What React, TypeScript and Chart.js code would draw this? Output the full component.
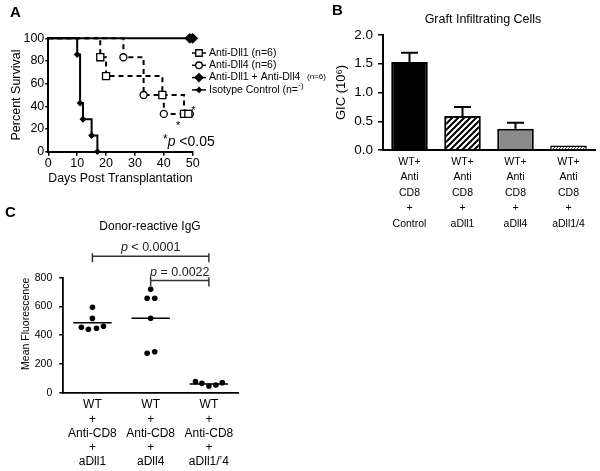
import React, { useEffect, useRef } from 'react';
import { Chart, registerables } from 'chart.js';

Chart.register(...registerables);

const FONT = "'Liberation Sans', Arial, Helvetica, sans-serif";
Chart.defaults.font.family = FONT;
Chart.defaults.color = '#000';

// ---------- Panel A: survival ----------
const dll1Days = [0, 18, 20, 39.5, 47, 48.5];
const dll1Surv = [100, 83.3, 66.7, 50, 33.3, 33.3];
const dll4Days = [0, 26, 33, 40, 47.5, 49];
const dll4Surv = [100, 83.3, 50, 33.3, 33.3, 33.3];
const comboDays = [0, 49, 50];
const comboSurv = [100, 100, 100];
const isoDays = [0, 10, 11, 12, 15, 17];
const isoSurv = [100, 85.7, 42.9, 28.6, 14.3, 0];
const aLegend = ['Anti-Dll1 (n=6)', 'Anti-Dll4 (n=6)', 'Anti-Dll1 + Anti-Dll4 (n=6)', 'Isotype Control (n=7)'];
const starDays = [45, 50.2];
const starSurv = [25, 39];

// ---------- Panel B: graft infiltrating cells ----------
const bLabels = [
  ['WT+', 'Anti', 'CD8', '+', 'Control'],
  ['WT+', 'Anti', 'CD8', '+', 'aDll1'],
  ['WT+', 'Anti', 'CD8', '+', 'aDll4'],
  ['WT+', 'Anti', 'CD8', '+', 'aDll1/4'],
];
const bValues = [1.53, 0.59, 0.37, 0.08];
const bErrors = [0.16, 0.16, 0.105, 0];

// ---------- Panel C: donor-reactive IgG ----------
const cLabels = [
  ['WT', '+', 'Anti-CD8', '+', 'aDll1'],
  ['WT', '+', 'Anti-CD8', '+', 'aDll4'],
  ['WT', '+', 'Anti-CD8', '+', 'aDll1/\u20194'],
];
const cValues = [
  [594, 517, 455, 441, 448, 462],
  [719, 657, 657, 518, 274, 285],
  [77, 65, 47, 54, 70],
];
const cJitter = [
  [0, 0, -0.19, -0.07, 0.07, 0.19],
  [0, -0.06, 0.07, 0, -0.06, 0.07],
  [-0.23, -0.12, 0, 0.12, 0.23],
];
const cMedians = [487, 518, 60];
const bracketFrom = [1, 2];
const bracketTo = [3, 3];
const bracketLevel = [950, 780];
const bracketText = ['< 0.0001', '= 0.0022'];

function drawMarker(ctx: CanvasRenderingContext2D, style: string, x: number, y: number, r: number, fill: string) {
  ctx.save();
  ctx.beginPath();
  if (style === 'rect') {
    const s = r * Math.SQRT1_2;
    ctx.rect(x - s, y - s, 2 * s, 2 * s);
  } else if (style === 'circle') {
    ctx.arc(x, y, r, 0, Math.PI * 2);
  } else {
    ctx.moveTo(x, y - r);
    ctx.lineTo(x + r, y);
    ctx.lineTo(x, y + r);
    ctx.lineTo(x - r, y);
    ctx.closePath();
  }
  ctx.fillStyle = fill;
  ctx.fill();
  ctx.lineWidth = 1.3;
  ctx.strokeStyle = '#000';
  ctx.stroke();
  ctx.restore();
}

function makeHatch(size: number, lw: number, color: string, bg: string) {
  const c = document.createElement('canvas');
  c.width = size;
  c.height = size;
  const g = c.getContext('2d')!;
  g.fillStyle = bg;
  g.fillRect(0, 0, size, size);
  g.strokeStyle = color;
  g.lineWidth = lw;
  g.beginPath();
  g.moveTo(-1, size + 1);
  g.lineTo(size + 1, -1);
  g.moveTo(-size / 2 - 1, size / 2 + 1);
  g.lineTo(size / 2 + 1, -size / 2 - 1);
  g.moveTo(size / 2 - 1, size * 1.5 + 1);
  g.lineTo(size * 1.5 + 1, size / 2 - 1);
  g.stroke();
  return g.createPattern(c, 'repeat')!;
}

const pts = (xs: number[], ys: number[]) => xs.map((x, i) => ({ x, y: ys[i] }));

function configA(): any {
  const legendStyles = [
    { style: 'rect', r: 4.6, fill: '#fff' },
    { style: 'circle', r: 3.3, fill: '#fff' },
    { style: 'diamond', r: 4, fill: '#000' },
    { style: 'diamond', r: 2.4, fill: '#000' },
  ];
  const plugin = {
    id: 'panelA',
    afterDraw(chart: any) {
      const ctx = chart.ctx as CanvasRenderingContext2D;
      const xs = chart.scales.x;
      const ys = chart.scales.y;
      ctx.save();
      ctx.fillStyle = '#000';
      ctx.textBaseline = 'middle';
      ctx.textAlign = 'left';
      ctx.font = `bold 15px ${FONT}`;
      ctx.fillText('A', 10, 13);
      // legend
      aLegend.forEach((label, i) => {
        const y = 53 + i * 12.3;
        ctx.strokeStyle = '#000';
        ctx.lineWidth = 1.5;
        ctx.beginPath();
        ctx.moveTo(192, y);
        ctx.lineTo(206, y);
        ctx.stroke();
        const st = legendStyles[i];
        drawMarker(ctx, st.style, 199, y, st.r, st.fill);
        ctx.fillStyle = '#000';
        ctx.font = `10.5px ${FONT}`;
        ctx.fillText(label, 209, y);
      });
      // significance stars
      ctx.textAlign = 'center';
      ctx.font = `11px ${FONT}`;
      starDays.forEach((d, i) => {
        ctx.fillText('*', xs.getPixelForValue(d), ys.getPixelForValue(starSurv[i]) + 3);
      });
      // *p <0.05
      ctx.textAlign = 'left';
      let x = 163;
      const y = 142;
      ctx.font = `12px ${FONT}`;
      ctx.fillText('*', x, y - 2);
      x += ctx.measureText('*').width;
      ctx.font = `italic 14px ${FONT}`;
      ctx.fillText('p', x, y);
      x += ctx.measureText('p').width;
      ctx.font = `14px ${FONT}`;
      ctx.fillText(' <0.05', x, y);
      ctx.restore();
    },
  };
  const base = {
    borderColor: '#000',
    borderWidth: 2,
    pointBorderColor: '#000',
    pointBorderWidth: 1.3,
    stepped: 'before',
    clip: false,
    fill: false,
  };
  return {
    type: 'line',
    data: {
      datasets: [
        { ...base, label: aLegend[0], data: pts(dll1Days, dll1Surv), borderDash: [5, 4], pointStyle: 'rect', pointBackgroundColor: '#fff', pointRadius: (c: any) => (c.dataIndex === 0 ? 0 : 5) },
        { ...base, label: aLegend[1], data: pts(dll4Days, dll4Surv), borderDash: [5, 4], pointStyle: 'circle', pointBackgroundColor: '#fff', pointRadius: (c: any) => (c.dataIndex === 0 ? 0 : 3.5) },
        { ...base, label: aLegend[2], data: pts(comboDays, comboSurv), pointStyle: 'rectRot', pointBackgroundColor: '#000', pointRadius: (c: any) => (c.dataIndex === 0 ? 0 : 4.5) },
        { ...base, label: aLegend[3], data: pts(isoDays, isoSurv), pointStyle: 'rectRot', pointBackgroundColor: '#000', pointRadius: (c: any) => (c.dataIndex === 0 ? 0 : 2.5) },
      ],
    },
    options: {
      responsive: false,
      animation: false,
      layout: { padding: { top: 38.3, right: 107.3, left: 0, bottom: 0 } },
      plugins: { legend: { display: false }, tooltip: { enabled: false } },
      scales: {
        x: {
          type: 'linear',
          min: 0,
          max: 50,
          afterFit: (s: any) => { s.height = 48.3; },
          ticks: { stepSize: 10, padding: 0, font: { size: 12.5 }, color: '#000' },
          grid: { drawOnChartArea: false, drawTicks: true, tickLength: 4, color: '#000', lineWidth: 1.5 },
          border: { display: true, color: '#000', width: 2 },
          title: { display: true, text: 'Days Post Transplantation', font: { size: 12.5 }, color: '#000', padding: { top: 0, bottom: 13.5 } },
        },
        y: {
          min: 0,
          max: 100,
          afterFit: (s: any) => { s.width = 48.3; },
          ticks: { stepSize: 20, padding: 1, font: { size: 12.5 }, color: '#000' },
          grid: { drawOnChartArea: false, drawTicks: true, tickLength: 3, color: '#000', lineWidth: 1.5 },
          border: { display: true, color: '#000', width: 2 },
          title: { display: true, text: 'Percent Survival', font: { size: 12.5 }, color: '#000', padding: { top: 9.5, bottom: 0 } },
        },
      },
    },
    plugins: [plugin],
  };
}

function configB(): any {
  const plugin = {
    id: 'panelB',
    afterDatasetsDraw(chart: any) {
      const ctx = chart.ctx as CanvasRenderingContext2D;
      const meta = chart.getDatasetMeta(0);
      const ys = chart.scales.y;
      ctx.save();
      ctx.strokeStyle = '#000';
      ctx.lineWidth = 2;
      meta.data.forEach((el: any, i: number) => {
        if (!bErrors[i]) return;
        const top = ys.getPixelForValue(bValues[i] + bErrors[i]);
        ctx.beginPath();
        ctx.moveTo(el.x, el.y);
        ctx.lineTo(el.x, top);
        ctx.moveTo(el.x - 8.5, top);
        ctx.lineTo(el.x + 8.5, top);
        ctx.stroke();
      });
      ctx.restore();
    },
    afterDraw(chart: any) {
      const ctx = chart.ctx as CanvasRenderingContext2D;
      ctx.save();
      ctx.fillStyle = '#000';
      ctx.textBaseline = 'middle';
      ctx.textAlign = 'left';
      ctx.font = `bold 15px ${FONT}`;
      ctx.fillText('B', 32, 11);
      ctx.font = `8px ${FONT}`;
      ctx.fillText('(n=6)', 7, 77);
      ctx.fillText(')', 1, 86);
      ctx.textAlign = 'center';
      ctx.font = `12.5px ${FONT}`;
      ctx.fillText('Graft Infiltrating Cells', 183, 20);
      ctx.restore();
    },
  };
  const hatch = makeHatch(6, 2, '#000', '#fff');
  const fine = makeHatch(3, 1, '#555', '#eee');
  return {
    type: 'bar',
    data: {
      labels: bLabels,
      datasets: [
        {
          data: bValues,
          backgroundColor: ['#000', hatch, '#8a8a8a', fine],
          borderColor: '#000',
          borderWidth: [2, 2, 2, 1.5],
          borderSkipped: 'start',
          barPercentage: 0.69,
          categoryPercentage: 1,
        },
      ],
    },
    options: {
      responsive: false,
      animation: false,
      layout: { padding: { top: 35, right: 5, left: 0, bottom: 0 } },
      plugins: { legend: { display: false }, tooltip: { enabled: false } },
      scales: {
        x: {
          afterFit: (s: any) => { s.height = 90; },
          ticks: { padding: 4.3, maxRotation: 0, autoSkip: false, font: { size: 10.5, lineHeight: '15.5px' }, color: '#000' },
          grid: { drawOnChartArea: false, drawTicks: false },
          border: { display: true, color: '#000', width: 2 },
        },
        y: {
          min: 0,
          max: 2,
          afterFit: (s: any) => { s.width = 83; },
          ticks: { stepSize: 0.5, padding: 5, font: { size: 13.5 }, color: '#000', callback: (v: number) => v.toFixed(1) },
          grid: { drawOnChartArea: false, drawTicks: true, tickLength: 5, color: '#000', lineWidth: 1.5 },
          border: { display: true, color: '#000', width: 2 },
          title: { display: true, text: 'GIC (10\u2076)', font: { size: 13 }, color: '#000', padding: { top: 34, bottom: 0 } },
        },
      },
    },
    plugins: [plugin],
  };
}

function configC(): any {
  const plugin = {
    id: 'panelC',
    afterDraw(chart: any) {
      const ctx = chart.ctx as CanvasRenderingContext2D;
      const xs = chart.scales.x;
      const ys = chart.scales.y;
      ctx.save();
      ctx.fillStyle = '#000';
      ctx.textBaseline = 'middle';
      ctx.textAlign = 'left';
      ctx.font = `bold 15px ${FONT}`;
      ctx.fillText('C', 5, 13);
      ctx.textAlign = 'center';
      ctx.font = `12px ${FONT}`;
      ctx.fillText('Donor-reactive IgG', 150, 27);
      bracketFrom.forEach((f, i) => {
        const x1 = xs.getPixelForValue(f);
        const x2 = xs.getPixelForValue(bracketTo[i]);
        const y = ys.getPixelForValue(bracketLevel[i]);
        ctx.strokeStyle = '#333';
        ctx.lineWidth = 1.5;
        ctx.beginPath();
        ctx.moveTo(x1, y + 6);
        ctx.lineTo(x1, y - 3);
        ctx.moveTo(x1, y);
        ctx.lineTo(x2, y);
        ctx.moveTo(x2, y + 6);
        ctx.lineTo(x2, y - 3);
        ctx.stroke();
        ctx.fillStyle = '#222';
        ctx.font = `italic 12.5px ${FONT}`;
        const pw = ctx.measureText('p').width;
        ctx.font = `12.5px ${FONT}`;
        const rest = ' ' + bracketText[i];
        const rw = ctx.measureText(rest).width;
        let x = (x1 + x2) / 2 - (pw + rw) / 2;
        ctx.textAlign = 'left';
        ctx.font = `italic 12.5px ${FONT}`;
        ctx.fillText('p', x, y - 8.5);
        x += pw;
        ctx.font = `12.5px ${FONT}`;
        ctx.fillText(rest, x, y - 8.5);
      });
      ctx.restore();
    },
  };
  const points: { x: number; y: number }[] = [];
  cValues.forEach((vals, g) => vals.forEach((v, j) => points.push({ x: g + 1 + cJitter[g][j], y: v })));
  const medianSets = cMedians.map((m, g) => ({
    type: 'line',
    data: [{ x: g + 1 - 0.33, y: m }, { x: g + 1 + 0.33, y: m }],
    borderColor: '#000',
    borderWidth: 1.5,
    pointRadius: 0,
    showLine: true,
    clip: false,
  }));
  return {
    type: 'scatter',
    data: {
      datasets: [
        { data: points, pointRadius: 2.8, pointBackgroundColor: '#000', pointBorderWidth: 0, clip: false },
        ...medianSets,
      ],
    },
    options: {
      responsive: false,
      animation: false,
      layout: { padding: { top: 77.7, right: 62, left: 0, bottom: 0 } },
      plugins: { legend: { display: false }, tooltip: { enabled: false } },
      scales: {
        x: {
          type: 'linear',
          min: 0.5,
          max: 3.5,
          afterFit: (s: any) => { s.height = 78.3; },
          afterBuildTicks: (s: any) => { s.ticks = cLabels.map((_, i) => ({ value: i + 1 })); },
          ticks: { padding: 5.2, maxRotation: 0, autoSkip: false, font: { size: 12, lineHeight: '14.2px' }, color: '#000', callback: (v: number) => cLabels[Math.round(v) - 1] },
          grid: { drawOnChartArea: false, drawTicks: false },
          border: { display: true, color: '#000', width: 1.8 },
        },
        y: {
          min: 0,
          max: 800,
          afterFit: (s: any) => { s.width = 63.3; },
          ticks: { stepSize: 200, padding: 7, font: { size: 10.5 }, color: '#000' },
          grid: { drawOnChartArea: false, drawTicks: true, tickLength: 4, color: '#000', lineWidth: 1.5 },
          border: { display: true, color: '#000', width: 1.8 },
          title: { display: true, text: 'Mean Fluorescence', align: 'end', font: { size: 10.5 }, color: '#000', padding: { top: 19.7, bottom: 0 } },
        },
      },
    },
    plugins: [plugin],
  };
}

export default function App() {
  const aRef = useRef<HTMLCanvasElement>(null);
  const bRef = useRef<HTMLCanvasElement>(null);
  const cRef = useRef<HTMLCanvasElement>(null);
  useEffect(() => {
    const charts = [
      new Chart(aRef.current!, configA()),
      new Chart(bRef.current!, configB()),
      new Chart(cRef.current!, configC()),
    ];
    return () => charts.forEach((c) => c.destroy());
  }, []);
  return (
    <div style={{ position: 'absolute', left: 0, top: 0, width: 600, height: 471, background: '#fff', overflow: 'hidden' }}>
      <canvas ref={aRef} width={300} height={200} style={{ position: 'absolute', left: 0, top: 0 }} />
      <canvas ref={bRef} width={300} height={240} style={{ position: 'absolute', left: 300, top: 0 }} />
      <canvas ref={cRef} width={300} height={271} style={{ position: 'absolute', left: 0, top: 200 }} />
    </div>
  );
}
